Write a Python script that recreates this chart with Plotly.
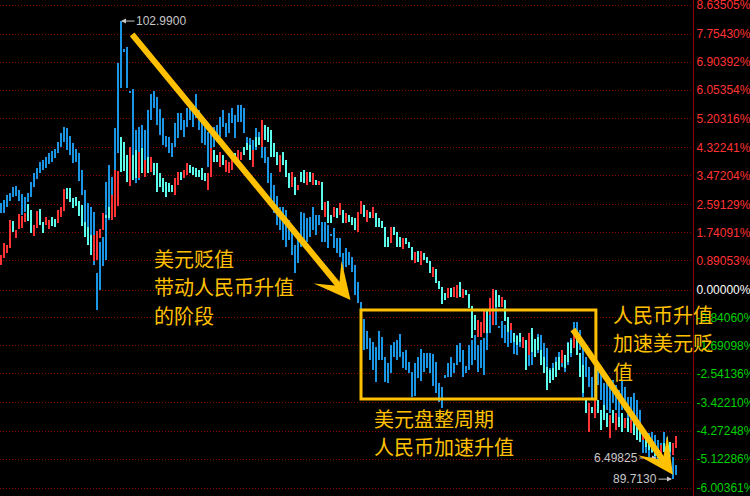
import plotly.graph_objects as go

# ---------------- data (percent change on the shared % axis) ----------------
usd_high = [
    2.64, 2.73, 2.88, 2.94, 3.12, 3.15, 3.03, 2.91, 2.82, 2.94,
    3.27, 3.55, 3.70, 3.88, 3.94, 4.03, 4.15, 4.21, 4.27, 4.48,
    4.76, 4.94, 4.91, 4.67, 4.45, 4.27, 4.15, 3.64, 3.03, 2.64,
    2.52, 2.36, 0.52, 1.45, 1.61, 3.27, 3.79, 3.42, 4.91, 6.88,
    8.15, 7.30, 7.36, 6.03, 6.09, 4.85, 4.94, 5.00, 4.85, 5.45,
    5.94, 6.03, 5.85, 5.48, 5.21, 4.67, 4.64, 4.45, 5.06, 5.36,
    5.36, 5.15, 5.52, 5.67, 5.55, 5.94, 5.45, 5.15, 5.06, 4.79,
    4.85, 4.94, 5.00, 5.24, 5.45, 5.06, 5.36, 5.52, 5.30, 5.61,
    5.61, 5.52, 4.64, 4.61, 4.55, 4.91, 4.79, 4.85, 4.33, 4.03,
    3.55, 3.18, 2.85, 2.52, 2.52, 2.42, 2.12, 1.97, 1.36, 1.73,
    2.36, 2.33, 2.18, 2.21, 2.52, 2.27, 2.27, 2.06, 2.06, 1.97,
    1.70, 1.88, 1.58, 1.58, 1.12, 1.27, 1.15, 1.00, 0.76, 0.24,
    -0.36, -0.88, -1.24, -1.45, -1.58, -1.73, -1.24, -1.42, -2.03, -2.21,
    -1.67, -1.58, -1.52, -1.33, -1.88, -1.82, -2.18, -2.48, -2.21, -2.03,
    -1.79, -1.91, -1.91, -1.91, -1.94, -2.18, -2.82, -2.94, -2.58, -2.21,
    -2.03, -2.21, -1.67, -1.61, -1.82, -2.30, -1.67, -1.52, -1.36, -1.67,
    -1.52, -1.45, -1.15, -0.67, -0.70, -0.06, -1.12, -0.94, -1.06, -0.82,
    -1.21, -1.30, -1.36, -1.30, -1.45, -1.52, -1.88, -1.52, -1.48, -1.33,
    -1.36, -1.61, -1.76, -2.36, -2.21, -2.03, -1.88, -1.91, -1.97, -1.58,
    -1.45, -0.97, -0.97, -1.21, -1.61, -2.03, -2.33, -2.64, -2.33, -2.18,
    -2.42, -2.82, -2.82, -2.94, -2.73, -2.88, -3.03, -2.73, -2.94, -3.24,
    -3.24, -3.12, -3.33, -3.64, -4.15, -4.33, -4.33, -4.30, -4.39, -4.55,
    -4.64, -4.30, -4.45, -4.64, -5.06, -5.30,
]
usd_low = [
    2.33, 2.33, 2.52, 2.70, 2.82, 2.85, 2.70, 2.27, 2.36, 2.67,
    2.82, 3.12, 3.36, 3.55, 3.64, 3.70, 3.82, 3.88, 4.00, 4.15,
    4.33, 4.48, 4.24, 4.09, 3.85, 3.88, 3.30, 2.88, 1.61, 1.36,
    1.21, 0.76, -0.61, 0.00, 0.73, 0.91, 2.12, 2.21, 2.52, 4.15,
    6.12, 7.21, 6.12, 5.97, 3.94, 3.24, 3.33, 3.55, 3.55, 3.94,
    5.15, 5.52, 5.00, 4.70, 4.39, 4.33, 4.15, 4.03, 4.33, 4.61,
    4.85, 4.64, 4.94, 5.15, 4.94, 5.21, 4.85, 4.45, 4.39, 3.73,
    4.03, 4.33, 4.48, 4.64, 4.94, 4.64, 4.76, 5.06, 4.61, 5.09,
    5.09, 4.76, 4.24, 4.03, 3.73, 4.24, 4.39, 4.00, 3.85, 3.24,
    2.52, 2.33, 1.97, 1.82, 1.52, 1.30, 1.52, 1.06, 0.52, 0.82,
    1.30, 1.52, 1.45, 1.61, 1.82, 1.67, 1.97, 1.45, 1.45, 1.27,
    1.64, 1.27, 1.12, 1.00, 0.61, 0.70, 0.76, 0.55, -0.15, -0.39,
    -0.61, -1.82, -1.79, -2.12, -2.42, -2.79, -2.12, -2.12, -2.79, -2.82,
    -2.52, -2.03, -2.12, -2.03, -2.36, -2.42, -2.52, -3.24, -3.21, -2.67,
    -2.76, -2.48, -2.36, -2.52, -2.91, -3.12, -3.39, -3.58, -2.64, -2.64,
    -2.64, -2.52, -2.27, -2.18, -2.64, -2.52, -2.42, -2.27, -2.12, -2.48,
    -2.36, -2.58, -1.82, -1.30, -1.06, -1.06, -1.15, -1.45, -1.61, -1.73,
    -1.61, -1.94, -1.97, -1.73, -1.76, -2.33, -2.30, -2.27, -2.03, -1.91,
    -2.12, -2.52, -2.48, -2.82, -2.67, -2.64, -2.42, -2.33, -2.48, -2.27,
    -2.03, -1.76, -1.61, -1.82, -3.24, -2.64, -2.94, -3.33, -3.24, -2.88,
    -3.33, -3.55, -3.64, -3.73, -3.42, -3.64, -3.85, -3.64, -3.64, -3.94,
    -3.94, -3.94, -4.15, -4.33, -4.94, -4.94, -5.06, -4.94, -5.06, -5.15,
    -5.15, -4.76, -4.94, -5.06, -5.73, -5.61,
]
rmb_open = [
    0.76, 0.97, 1.12, 1.27, 2.09, 1.58, 1.85, 1.88, 2.06, 2.61,
    2.42, 1.64, 1.88, 2.45, 2.06, 1.97, 1.85, 2.21, 2.15, 2.03,
    2.21, 2.39, 3.09, 3.09, 2.79, 2.82, 2.70, 2.58, 2.06, 1.91,
    1.67, 0.88, 0.91, 1.58, 1.82, 2.27, 2.52, 2.12, 2.21, 2.55,
    4.64, 4.48, 4.09, 3.15, 4.09, 4.24, 3.39, 4.30, 3.42, 4.03,
    3.58, 3.85, 3.85, 3.55, 3.39, 3.27, 3.24, 3.18, 2.88, 3.18,
    3.58, 3.39, 3.48, 3.79, 3.73, 3.70, 3.64, 3.70, 3.55, 3.03,
    3.42, 4.24, 4.09, 3.73, 4.09, 3.58, 3.55, 3.64, 4.15, 3.73,
    3.94, 4.33, 4.45, 4.39, 3.73, 4.64, 4.64, 4.33, 5.00, 4.94,
    4.85, 4.45, 4.18, 3.58, 4.18, 3.94, 3.55, 3.12, 3.42, 3.03,
    3.58, 3.64, 3.18, 3.58, 3.18, 3.33, 3.18, 3.27, 2.21, 2.70,
    2.27, 2.21, 2.48, 2.27, 2.42, 2.03, 2.27, 2.21, 2.18, 1.76,
    2.30, 2.58, 2.06, 2.36, 2.18, 2.33, 2.18, 2.09, 1.91, 1.61,
    1.42, 1.91, 1.76, 1.61, 1.24, 1.58, 1.45, 1.30, 0.82, 1.18,
    0.76, 1.12, 1.00, 0.88, 0.39, 0.64, 0.27, 0.09, -0.09, -0.24,
    0.06, -0.21, -0.24, 0.24, -0.24, 0.00, -0.12, -0.48, -0.76, -1.42,
    -1.42, -1.30, -0.64, -0.76, -1.06, 0.00, -0.15, -0.52, -0.30, -0.82,
    -1.21, -1.30, -1.39, -1.30, -1.76, -1.52, -1.97, -1.15, -1.48, -1.42,
    -1.82, -2.03, -2.33, -2.42, -2.36, -2.18, -2.03, -2.21, -1.97, -1.61,
    -1.52, -1.76, -1.45, -1.91, -2.27, -3.33, -4.30, -3.55, -3.88, -3.33,
    -3.64, -3.48, -3.73, -4.48, -3.64, -4.24, -3.85, -3.73, -4.18, -3.88,
    -4.33, -4.00, -4.09, -4.24, -4.55, -4.30, -4.48, -4.61, -4.76, -4.85,
    -5.00, -4.64, -4.85, -4.61, -5.00, -4.79,
]
rmb_close = [
    1.06, 1.42, 1.36, 2.12, 1.76, 1.82, 2.30, 2.24, 2.33, 2.09,
    1.73, 1.97, 2.39, 1.97, 1.73, 2.21, 2.12, 1.94, 1.91, 2.42,
    2.52, 3.06, 2.76, 2.67, 2.48, 2.55, 2.24, 1.94, 1.61, 1.36,
    1.06, 1.67, 1.79, 1.85, 2.33, 2.18, 2.18, 2.88, 3.64, 3.61,
    3.58, 3.61, 3.27, 4.33, 3.33, 3.39, 4.18, 3.55, 3.94, 3.55,
    4.03, 3.48, 2.97, 3.12, 2.97, 2.82, 2.97, 2.97, 3.39, 3.58,
    3.33, 3.64, 3.85, 3.55, 3.48, 3.42, 3.42, 3.33, 3.30, 3.55,
    4.30, 3.88, 3.88, 4.18, 3.79, 3.94, 3.88, 4.00, 3.85, 4.24,
    4.18, 4.09, 4.24, 3.94, 4.24, 4.33, 4.39, 5.15, 4.55, 4.48,
    4.03, 4.03, 3.79, 4.09, 3.79, 3.42, 3.09, 3.58, 2.88, 3.18,
    3.27, 3.24, 3.58, 3.27, 3.55, 3.18, 3.30, 2.42, 2.67, 2.03,
    2.03, 2.52, 2.18, 2.64, 2.03, 2.33, 2.06, 1.97, 1.82, 2.36,
    2.70, 2.21, 2.42, 2.18, 2.52, 1.91, 1.91, 1.88, 1.30, 1.30,
    1.91, 1.67, 1.30, 1.30, 1.58, 1.39, 1.27, 0.91, 1.15, 0.85,
    1.18, 0.91, 0.82, 0.52, 0.70, 0.21, 0.03, -0.42, -0.30, 0.06,
    -0.21, 0.09, 0.15, -0.21, 0.03, -0.15, -0.55, -1.45, -1.21, -0.91,
    -0.97, -0.64, -1.30, -0.24, 0.03, -0.52, -0.52, -0.21, -0.94, -1.27,
    -1.00, -1.58, -1.67, -1.58, -1.42, -2.42, -1.30, -1.88, -2.03, -1.82,
    -2.27, -2.52, -3.03, -2.82, -2.73, -2.64, -2.42, -1.82, -2.36, -2.18,
    -1.91, -1.36, -1.97, -2.64, -3.12, -3.73, -3.42, -3.73, -3.33, -3.73,
    -4.24, -3.94, -4.15, -3.79, -4.03, -3.73, -4.15, -4.30, -3.88, -4.30,
    -3.94, -4.39, -4.55, -4.61, -4.18, -4.76, -4.85, -4.91, -5.03, -5.09,
    -4.70, -4.91, -4.55, -4.91, -4.64, -4.42,
]

tick_pct = [8.63505, 7.75430, 6.90392, 6.05354, 5.20316, 4.32241, 3.47204,
            2.59129, 1.74091, 0.89053, 0.0, -0.84060, -1.69098, -2.54136,
            -3.42210, -4.27248, -5.12286, -6.00361]

usd_peak_label = "102.9900"
usd_low_label = "89.7130"
rmb_low_label = "6.49825"

text_left = ["美元贬值", "带动人民币升值", "的阶段"]
text_mid = ["美元盘整周期", "人民币加速升值"]
text_right = ["人民币升值", "加速美元贬", "值"]

# ---------------- styling ----------------
BLUE = "#1A96E4"
RED = "#FF3333"
CYAN = "#5CFCEC"
GOLD = "#FFC000"
GRID = "#8A0000"

n = len(usd_high)
xs = list(range(n))

rmb_low = [min(o, c) for o, c in zip(rmb_open, rmb_close)]
rmb_high = [max(o, c) for o, c in zip(rmb_open, rmb_close)]
rmb_col = [RED if c >= o else CYAN for o, c in zip(rmb_open, rmb_close)]

fig = go.Figure()
fig.add_trace(go.Bar(
    x=xs, base=usd_low, y=[h - l for h, l in zip(usd_high, usd_low)],
    width=0.34, marker=dict(color=BLUE, line=dict(width=0)),
    hoverinfo="skip", showlegend=False))
fig.add_trace(go.Bar(
    x=xs, base=rmb_low, y=[max(h - l, 0.03) for h, l in zip(rmb_high, rmb_low)],
    width=0.34, marker=dict(color=rmb_col, line=dict(width=0)),
    hoverinfo="skip", showlegend=False))


def tick_txt(p):
    col = RED if p > 0 else ("#FFFFFF" if p == 0 else "#00D200")
    return f'<span style="color:{col}">{p:.5f}%</span>'


W, H = 750, 496
R_MARGIN = 57
PW = W - R_MARGIN

fig.update_layout(
    width=W, height=H,
    margin=dict(l=0, r=R_MARGIN, t=0, b=0),
    paper_bgcolor="#000000", plot_bgcolor="#000000",
    barmode="overlay", bargap=0,
    xaxis=dict(range=[-0.333, PW / 3 - 0.333], visible=False, fixedrange=True),
    yaxis=dict(
        range=[-6.242, 8.788], side="right",
        tickmode="array", tickvals=tick_pct,
        ticktext=[tick_txt(p) for p in tick_pct],
        tickfont=dict(family="Liberation Sans, Arial", size=12),
        ticklabeloverflow="allow",
        ticks="", showgrid=True, gridcolor=GRID, griddash="1px,2px",
        gridwidth=1, zeroline=False, showline=True, linecolor="#8A0000",
        linewidth=1, automargin=False, fixedrange=True),
    font=dict(family="Liberation Sans, Arial", color="#C8C8C8"),
)

anns = []
lab_font = dict(family="Liberation Sans, Arial", size=12, color="#C8C8C8")
anns.append(dict(x=40, y=usd_high[40], text=usd_peak_label, showarrow=True,
                 ax=40, ay=0, arrowhead=2, arrowsize=1, arrowwidth=1,
                 arrowcolor="#C8C8C8", font=lab_font, standoff=0))
anns.append(dict(x=224, y=usd_low[224], text=usd_low_label, showarrow=True,
                 ax=-38, ay=0, arrowhead=2, arrowsize=1, arrowwidth=1,
                 arrowcolor="#C8C8C8", font=lab_font, standoff=1))
rl = min(range(n), key=lambda i: rmb_low[i])
anns.append(dict(x=rl, y=rmb_low[rl], text=rmb_low_label, showarrow=True,
                 ax=-42, ay=0, arrowhead=2, arrowsize=1, arrowwidth=1,
                 arrowcolor="#C8C8C8", font=lab_font, standoff=1))

# big gold trend arrows (data coordinates)
anns.append(dict(x=116.5, y=-0.3, ax=43.3, ay=7.79, axref="x", ayref="y",
                 text="", showarrow=True, arrowhead=3, arrowsize=1.0,
                 arrowwidth=6, arrowcolor=GOLD))
anns.append(dict(x=224.0, y=-5.6, ax=190.3, ay=-1.15, axref="x", ayref="y",
                 text="", showarrow=True, arrowhead=3, arrowsize=1.0,
                 arrowwidth=6, arrowcolor=GOLD))

cjk = dict(family="Noto Sans CJK SC", size=20, color=GOLD)


def add_lines(lines, px, py0, step):
    for k, t in enumerate(lines):
        anns.append(dict(xref="paper", yref="paper", x=px / PW,
                         y=1 - (py0 + k * step) / H, text=t, showarrow=False,
                         xanchor="left", yanchor="middle", font=cjk))


add_lines(text_left, 152, 258, 28.5)
add_lines(text_mid, 372, 418, 28.5)
add_lines(text_right, 611, 314, 28.5)

fig.update_layout(annotations=anns)

# consolidation box
fig.add_shape(type="rect", x0=120.0, x1=198.3, y0=-0.606, y1=-3.30,
              line=dict(color=GOLD, width=3), fillcolor="rgba(0,0,0,0)")

fig.write_html(
    "out.html",
    config={"displayModeBar": False},
    post_script="document.body.style.margin='0';document.body.style.padding='0';",
)
